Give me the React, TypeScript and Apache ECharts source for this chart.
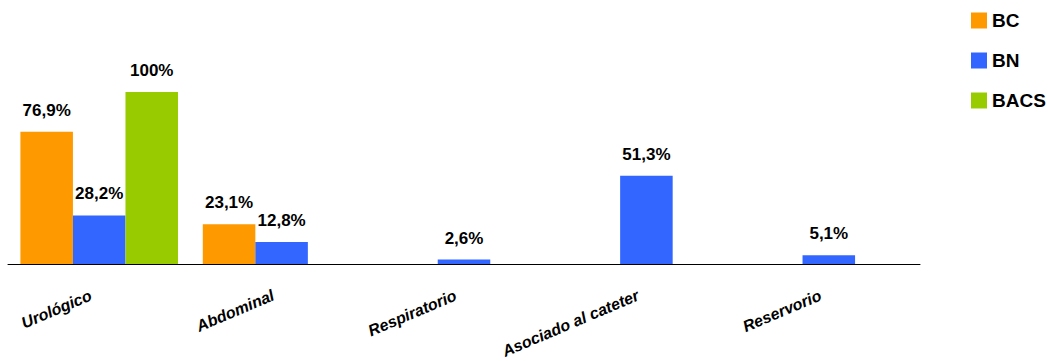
import React, { useEffect, useRef } from "react";
import * as echarts from "echarts";

const categories = ["Urológico", "Abdominal", "Respiratorio", "Asociado al cateter", "Reservorio"];
const bcValues = [76.9, 23.1, null, null, null];
const bnValues = [28.2, 12.8, 2.6, 51.3, 5.1];
const bacsValues = [100, null, null, null, null];
const seriesNames = ["BC", "BN", "BACS"];
const seriesColors = ["#FF9900", "#3366FF", "#99CC00"];

const fmt = (v: number) => String(v).replace(".", ",") + "%";

export default function App() {
  const ref = useRef<HTMLDivElement>(null);
  useEffect(() => {
    if (!ref.current) return;
    const chart = echarts.init(ref.current, null, { renderer: "svg" });
    const label = {
      show: true,
      position: "top" as const,
      distance: 13,
      fontFamily: "Liberation Sans, Arial, sans-serif",
      fontWeight: "bold" as const,
      fontSize: 17,
      color: "#000",
      formatter: (p: any) => fmt(p.value),
    };
    const data = [bcValues, bnValues, bacsValues];
    chart.setOption({
      animation: false,
      grid: {
        left: 8,
        right: 128,
        top: 92,
        bottom: 97,
        containLabel: false,
        outerBoundsMode: "none",
      },
      legend: {
        orient: "vertical",
        left: 971,
        top: 11,
        padding: 0,
        itemWidth: 16,
        itemHeight: 16,
        itemGap: 21,
        icon: "rect",
        textStyle: {
          fontFamily: "Liberation Sans, Arial, sans-serif",
          fontWeight: "bold",
          fontSize: 19,
          lineHeight: 16,
          color: "#000",
        },
        data: seriesNames,
      },
      xAxis: {
        type: "category",
        data: categories,
        axisLine: { lineStyle: { color: "#000", width: 1 } },
        axisTick: { length: 6, lineStyle: { color: "#444" } },
        axisLabel: {
          interval: 0,
          rotate: 23,
          margin: 27,
          padding: [0, 9, 0, 0],
          fontFamily: "Liberation Sans, Arial, sans-serif",
          fontWeight: "bold",
          fontStyle: "italic",
          fontSize: 16,
          color: "#000",
        },
      },
      yAxis: { type: "value", min: 0, max: 100, show: false, splitLine: { show: false } },
      series: seriesNames.map((name, i) => ({
        name,
        type: "bar",
        data: data[i],
        barGap: "0%",
        barCategoryGap: "13.6%",
        itemStyle: { color: seriesColors[i] },
        label,
      })),
    });
    return () => chart.dispose();
  }, []);
  return <div ref={ref} style={{ width: 1048, height: 361, position: "absolute", left: 0, top: 0 }} />;
}
